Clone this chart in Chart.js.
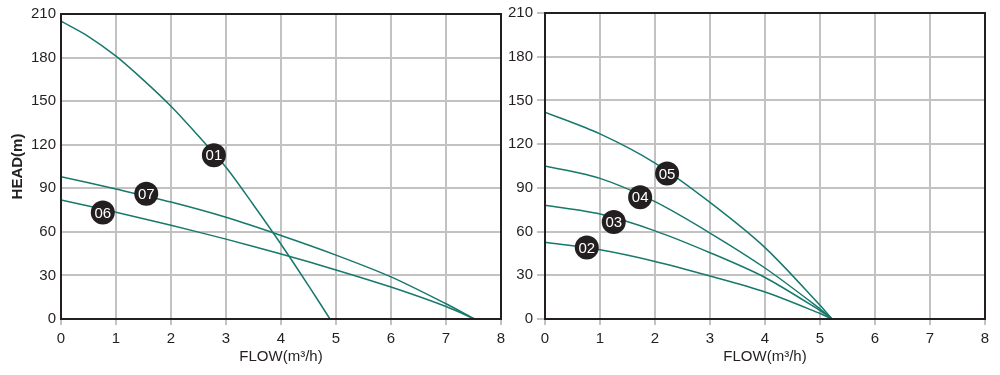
<!DOCTYPE html>
<html>
<head>
<meta charset="utf-8">
<script src="https://cdn.jsdelivr.net/npm/chart.js@4"></script>
<style>
  body { margin: 0; background: #fff; }
  #wrap { position: relative; width: 1000px; height: 375px; }
  .box { position: absolute; top: 0; width: 512px; height: 375px; }
</style>
</head>
<body>
<div id="wrap">
  <div class="box" style="left:0"><canvas id="leftChart" width="512" height="375"></canvas></div>
  <div class="box" style="left:484px"><canvas id="rightChart" width="512" height="375"></canvas></div>
</div>
<script>
// left panel curves
var flow01 = [0, 0.5, 1, 1.5, 2, 2.5, 3, 3.5, 4, 4.5, 4.89];
var head01 = [205, 194.5, 181, 164.5, 146.5, 126, 104.5, 78.5, 51.5, 23, 0];
var flow07 = [0, 1, 2, 3, 4, 5, 6, 7, 7.52];
var head07 = [98, 89.5, 80.5, 70, 57.5, 44, 29, 10.5, 0];
var flow06 = [0, 1, 2, 3, 4, 5, 6, 7, 7.52];
var head06 = [82, 73.5, 64.5, 55, 44.8, 33.8, 22, 8.6, 0];

// right panel curves
var flowRight = [0, 1, 2, 3, 4, 5, 5.22];
var head05 = [142, 127, 107, 80, 49, 9.5, 0];
var head04 = [105, 96.5, 80.5, 59, 35, 7, 0];
var head03 = [78, 72, 60.5, 45.5, 28.5, 5.8, 0];
var head02 = [52.6, 47.5, 39.5, 29.5, 18.5, 3.8, 0];

// model badges
var badgeNamesLeft = ["01", "07", "06"];
var badgeFlowLeft = [2.78, 1.55, 0.76];
var badgeHeadLeft = [112.7, 86.2, 73.4];
var badgeNamesRight = ["05", "04", "03", "02"];
var badgeFlowRight = [2.22, 1.73, 1.25, 0.76];
var badgeHeadRight = [99.8, 83.5, 66.6, 49];

var flowTicks = [0, 1, 2, 3, 4, 5, 6, 7, 8];
var headTicks = [0, 30, 60, 90, 120, 150, 180, 210];

var curveColor = "#17786c";
var inkColor = "#231f20";
var gridColor = "#c2c2c2";

function toPoints(xs, ys) {
  return xs.map(function (x, i) {
    return { x: x, y: ys[i] };
  });
}

function curve(xs, ys) {
  return {
    data: toPoints(xs, ys),
    borderColor: curveColor,
    borderWidth: 1.5,
    pointRadius: 0,
    tension: 0.3,
    fill: false,
  };
}

var framePlugin = {
  id: "frame",
  afterDraw: function (chart) {
    var a = chart.chartArea;
    var ctx = chart.ctx;
    ctx.save();
    ctx.strokeStyle = inkColor;
    ctx.lineWidth = 2;
    ctx.strokeRect(a.left, a.top, a.right - a.left, a.bottom - a.top);
    ctx.restore();
  },
};

var badgePlugin = {
  id: "badges",
  afterDatasetsDraw: function (chart, args, opts) {
    var ctx = chart.ctx;
    var xs = chart.scales.x;
    var ys = chart.scales.y;
    ctx.save();
    opts.names.forEach(function (name, i) {
      var px = xs.getPixelForValue(opts.flows[i]);
      var py = ys.getPixelForValue(opts.heads[i]);
      ctx.beginPath();
      ctx.arc(px, py, 12, 0, Math.PI * 2);
      ctx.fillStyle = inkColor;
      ctx.fill();
      ctx.fillStyle = "#fff";
      ctx.font = "15px 'Liberation Sans', Arial, sans-serif";
      ctx.textAlign = "center";
      ctx.textBaseline = "middle";
      ctx.fillText(name, px, py + 1);
    });
    ctx.restore();
  },
};

function makeOptions(showTitle, yTickLength, yPad, badges) {
  return {
    responsive: false,
    animation: false,
    layout: { padding: { left: 0, right: 11, top: 9, bottom: 0 } },
    plugins: {
      legend: { display: false },
      tooltip: { enabled: false },
      badges: badges,
    },
    scales: {
      x: {
        type: "linear",
        min: flowTicks[0],
        max: flowTicks[flowTicks.length - 1],
        afterBuildTicks: function (scale) {
          scale.ticks = flowTicks.map(function (v) { return { value: v }; });
        },
        afterFit: function (scale) { scale.height = 56; },
        grid: { color: gridColor, lineWidth: 2, tickLength: 6, drawTicks: true },
        border: { display: false },
        ticks: {
          color: inkColor,
          padding: 5,
          maxRotation: 0,
          font: { family: "'Liberation Sans', Arial, sans-serif", size: 15 },
        },
        title: {
          display: true,
          text: "FLOW(m³/h)",
          color: inkColor,
          padding: { top: 0, bottom: 9 },
          font: { family: "'Liberation Sans', Arial, sans-serif", size: 15 },
        },
      },
      y: {
        type: "linear",
        min: headTicks[0],
        max: headTicks[headTicks.length - 1],
        afterBuildTicks: function (scale) {
          scale.ticks = headTicks.map(function (v) { return { value: v }; });
        },
        afterFit: function (scale) { scale.width = 61; },
        grid: {
          color: gridColor,
          lineWidth: 2,
          tickLength: yTickLength,
          drawTicks: yTickLength > 0,
        },
        border: { display: false },
        ticks: {
          color: inkColor,
          padding: yPad,
          font: { family: "'Liberation Sans', Arial, sans-serif", size: 15 },
        },
        title: {
          display: showTitle,
          text: "HEAD(m)",
          color: inkColor,
          padding: { top: 9, bottom: 0 },
          font: { family: "'Liberation Sans', Arial, sans-serif", size: 15, weight: "bold" },
        },
      },
    },
  };
}

new Chart(document.getElementById("leftChart").getContext("2d"), {
  type: "line",
  data: {
    datasets: [
      curve(flow01, head01),
      curve(flow07, head07),
      curve(flow06, head06),
    ],
  },
  options: makeOptions(true, 0, 5, {
    names: badgeNamesLeft,
    flows: badgeFlowLeft,
    heads: badgeHeadLeft,
  }),
  plugins: [badgePlugin, framePlugin],
});

new Chart(document.getElementById("rightChart").getContext("2d"), {
  type: "line",
  data: {
    datasets: [
      curve(flowRight, head05),
      curve(flowRight, head04),
      curve(flowRight, head03),
      curve(flowRight, head02),
    ],
  },
  options: makeOptions(false, 8, 4, {
    names: badgeNamesRight,
    flows: badgeFlowRight,
    heads: badgeHeadRight,
  }),
  plugins: [badgePlugin, framePlugin],
});
</script>
</body>
</html>
